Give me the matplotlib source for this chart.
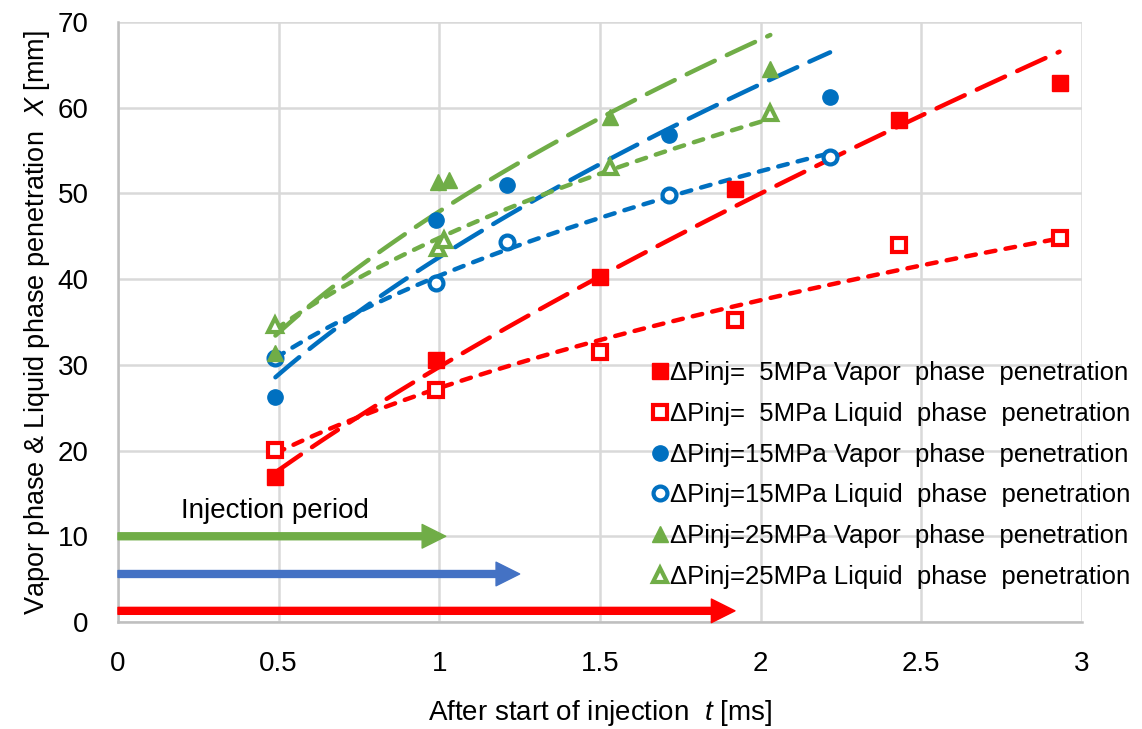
import numpy as np
import matplotlib
matplotlib.use("Agg")
import matplotlib.pyplot as plt

plt.rcParams['font.family'] = ['Liberation Sans', 'DejaVu Sans']
plt.rcParams['mathtext.fontset'] = 'custom'
plt.rcParams['mathtext.it'] = 'Liberation Sans:italic'
plt.rcParams['mathtext.rm'] = 'Liberation Sans'

# data (t [ms], X [mm])
t_5_vap = [0.49, 0.99, 1.50, 1.92, 2.43, 2.93]
x_5_vap = [16.9, 30.6, 40.3, 50.5, 58.6, 62.9]
t_5_liq = [0.49, 0.99, 1.50, 1.92, 2.43, 2.93]
x_5_liq = [20.1, 27.1, 31.5, 35.2, 44.0, 44.8]
t_15_vap = [0.49, 0.99, 1.21, 1.715, 2.216]
x_15_vap = [26.3, 46.9, 51.0, 56.8, 61.3]
t_15_liq = [0.49, 0.99, 1.21, 1.715, 2.216]
x_15_liq = [30.8, 39.6, 44.3, 49.8, 54.3]
t_25_vap = [0.49, 0.995, 1.03, 1.53, 2.03]
x_25_vap = [31.4, 51.3, 51.6, 58.9, 64.5]
t_25_liq = [0.49, 0.995, 1.015, 1.53, 2.03]
x_25_liq = [34.7, 43.6, 44.6, 53.1, 59.4]

labels = [
    "ΔPinj=  5MPa Vapor  phase  penetration",
    "ΔPinj=  5MPa Liquid  phase  penetration",
    "ΔPinj=15MPa Vapor  phase  penetration",
    "ΔPinj=15MPa Liquid  phase  penetration",
    "ΔPinj=25MPa Vapor  phase  penetration",
    "ΔPinj=25MPa Liquid  phase  penetration",
]

# injection period arrows: end time and height
inj_end = [1.02, 1.25, 1.92]
inj_y = [10.0, 5.6, 1.3]
inj_colors = ['#70AD47', '#4472C4', '#FF0000']

red = '#FF0000'
blue = '#0070C0'
green = '#70AD47'

series = [
    (t_5_vap, x_5_vap, red, 's', True),
    (t_5_liq, x_5_liq, red, 's', False),
    (t_15_vap, x_15_vap, blue, 'o', True),
    (t_15_liq, x_15_liq, blue, 'o', False),
    (t_25_vap, x_25_vap, green, '^', True),
    (t_25_liq, x_25_liq, green, '^', False),
]

fig = plt.figure(figsize=(11.42, 7.29), dpi=100)
ax = fig.add_axes([0.1033, 0.1468, 0.8442, 0.823])

for (t, x, c, m, filled), lab in zip(series, labels):
    t = np.array(t)
    x = np.array(x)
    # power trend line (Excel style)
    b, lna = np.polyfit(np.log(t), np.log(x), 1)
    tt = np.linspace(t.min(), t.max(), 100)
    dash = (7, 3) if filled else (2.2, 2.3)
    ax.plot(tt, np.exp(lna) * tt ** b, color=c, lw=3.2, dashes=dash,
            dash_capstyle='round', zorder=3)
    if filled:
        ax.plot(t, x, ls='none', marker=m, ms=12 if m != 'o' else 11,
                color=c, mec=c, label=lab, zorder=4)
    else:
        ax.plot(t, x, ls='none', marker=m, ms=10,
                mfc='white', mec=c, mew=3, label=lab, zorder=4)

for xe, ye, c in zip(inj_end, inj_y, inj_colors):
    ax.annotate('', xy=(xe, ye), xytext=(0, ye),
                arrowprops=dict(width=5, headwidth=17, headlength=17,
                                color=c, shrink=0), zorder=5)
ax.text(0.49, 13.0, "Injection period", fontsize=20, ha='center', va='center')

ax.set_xlim(0, 3)
ax.set_ylim(0, 70)
ax.set_xticks(np.arange(0, 3.01, 0.5))
ax.set_xticklabels(['0', '0.5', '1', '1.5', '2', '2.5', '3'])
ax.set_yticks(np.arange(0, 71, 10))
ax.grid(True, color='#D9D9D9', lw=1.8)
ax.set_axisbelow(True)
for s in ['top', 'right']:
    ax.spines[s].set_visible(False)
for s in ['left', 'bottom']:
    ax.spines[s].set_color('#BFBFBF')
    ax.spines[s].set_linewidth(1.8)
ax.tick_params(length=0, labelsize=20)
ax.tick_params(axis='x', pad=21)
ax.tick_params(axis='y', pad=21)
ax.set_xlabel(r"After start of injection  $t$ [ms]", fontsize=20, labelpad=15)
ax.set_ylabel(r"Vapor phase & Liquid phase penetration  $X$ [mm]", fontsize=19.5, labelpad=4)

ax.legend(loc='upper right', bbox_to_anchor=(1.006, 0.53), bbox_transform=fig.transFigure,
          frameon=False, fontsize=18.5, handlelength=0.6, handletextpad=0.1,
          labelspacing=0.66, borderaxespad=0.3)

fig.savefig("out.png", dpi=100)
